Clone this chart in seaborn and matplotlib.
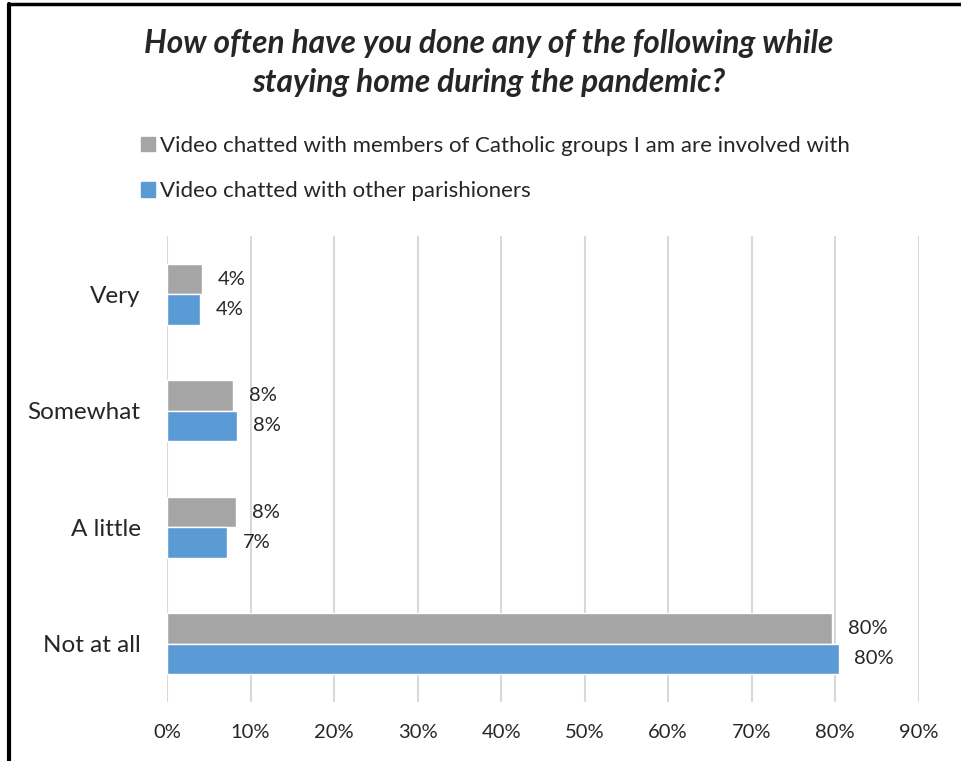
import numpy as np
import pandas as pd
import seaborn as sns
import matplotlib.pyplot as plt
from matplotlib.lines import Line2D

categories = ["Very", "Somewhat", "A little", "Not at all"]
series_names = [
    "Video chatted with members of Catholic groups I am are involved with",
    "Video chatted with other parishioners",
]
catholic_groups = [0.042, 0.079, 0.083, 0.796]
parishioners = [0.0395, 0.084, 0.072, 0.804]
ticks = [0, 0.1, 0.2, 0.3, 0.4, 0.5, 0.6, 0.7, 0.8, 0.9]
colors = ["#A5A5A5", "#5B9BD5"]

df = pd.DataFrame({
    "answer": categories * 2,
    "share": catholic_groups + parishioners,
    "series": [series_names[0]] * 4 + [series_names[1]] * 4,
})

sns.set_style("white")
plt.rcParams["font.family"] = ["Lato", "DejaVu Sans"]

fig = plt.figure(figsize=(9.61, 7.61), dpi=100)
ax = fig.add_axes([167 / 961, 59 / 761, 751.7 / 961, 466 / 761])

sns.barplot(data=df, y="answer", x="share", hue="series", order=categories,
            hue_order=series_names, palette=colors, orient="h", width=0.52,
            saturation=1, ax=ax, legend=False)

for cont in ax.containers:
    ax.bar_label(cont, fmt=lambda v: f"{v:.0%}", padding=11.5, fontsize=14.5)

ax.set_xlim(0, 0.9)
ax.set_xticks(ticks)
ax.set_xticklabels([f"{t:.0%}" for t in ticks])
ax.xaxis.grid(True, color="#D9D9D9", linewidth=1.5)
ax.set_axisbelow(True)
sns.despine(ax=ax, left=True, bottom=True)
ax.tick_params(axis="x", length=0, pad=16, labelsize=14.5)
ax.tick_params(axis="y", length=0, pad=19, labelsize=17.5)
ax.set_xlabel("")
ax.set_ylabel("")

# legend above the plot, one entry per row
handles = [plt.Rectangle((0, 0), 1, 1, color=c) for c in colors]
fig.legend(handles, series_names, loc="upper left",
           bbox_to_anchor=(141 / 961, 1 - 136 / 761), frameon=False,
           fontsize=16, handlelength=0.63, handleheight=0.63,
           handletextpad=0.22, labelspacing=1.13, borderpad=0, borderaxespad=0)

fig.text(489 / 961, 1 - 63 / 761,
         "How often have you done any of the following while\nstaying home during the pandemic?",
         ha="center", va="center", fontsize=22.8, fontweight="bold",
         fontstyle="italic", linespacing=1.38)

# black frame visible on the left and top
fig.add_artist(Line2D([9 / 961, 9 / 961], [0, 1 - 4 / 761], color="black", linewidth=3))
fig.add_artist(Line2D([9 / 961, 1], [1 - 4 / 761, 1 - 4 / 761], color="black", linewidth=2.5))

fig.savefig("out.png", dpi=100)
